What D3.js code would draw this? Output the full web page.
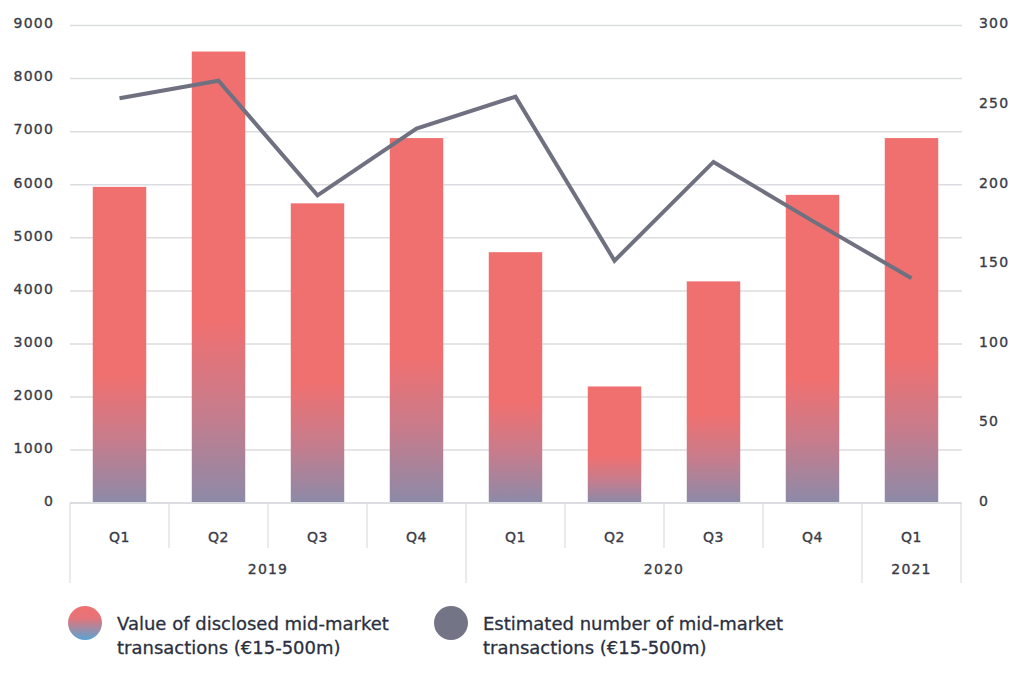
<!DOCTYPE html>
<html><head><meta charset="utf-8">
<script src="https://cdn.jsdelivr.net/npm/d3@7"></script>
<style>
body{margin:0;background:#fff;}
text{font-family:"DejaVu Sans",sans-serif;}
</style></head>
<body><svg id="c" width="1024" height="674"></svg>
<script>
const quarters = ["Q1","Q2","Q3","Q4","Q1","Q2","Q3","Q4","Q1"];
const years = [{label:"2019", from:0, to:3},{label:"2020", from:4, to:7},{label:"2021", from:8, to:8}];
const values = [5950, 8500, 5640, 6870, 4720, 2190, 4170, 5800, 6870];
const counts = [254, 265, 193, 235, 255, 152, 214, 177, 141];
const leftTicks = [0,1000,2000,3000,4000,5000,6000,7000,8000,9000];
const rightTicks = [0,50,100,150,200,250,300];
const legendLabels = [["Value of disclosed mid-market","transactions (€15-500m)"],["Estimated number of mid-market","transactions (€15-500m)"]];

const svg = d3.select("#c");
const L = 70, R = 961, T = 25, B = 502.7;
const idx = quarters.map((d,i)=>i);
const x = d3.scaleBand().domain(idx).range([L,R]).paddingInner(0.46).paddingOuter(0.23);
const yL = d3.scaleLinear().domain([0,9000]).range([B,T]);
const yR = d3.scaleLinear().domain([0,300]).range([B,T]);
const txt = "#3a3b47";

const defs = svg.append("defs");
const g = defs.append("linearGradient").attr("id","barg").attr("x1",0).attr("y1",0).attr("x2",0).attr("y2",1);
g.append("stop").attr("offset","0%").attr("stop-color","#f07070");
g.append("stop").attr("offset","60%").attr("stop-color","#f07070");
g.append("stop").attr("offset","80%").attr("stop-color","#c77c8c");
g.append("stop").attr("offset","100%").attr("stop-color","#8c8aa8");
const lg = defs.append("linearGradient").attr("id","legg").attr("x1",0).attr("y1",0).attr("x2",0).attr("y2",1);
lg.append("stop").attr("offset","0%").attr("stop-color","#f07070");
lg.append("stop").attr("offset","35%").attr("stop-color","#e57478");
lg.append("stop").attr("offset","100%").attr("stop-color","#5aa3d4");

function styleText(sel, size, ls){
  sel.attr("fill",txt).attr("stroke",txt).attr("stroke-width",0.35)
    .style("font-size",size+"px").style("letter-spacing",ls+"px");
}

// gridlines + left labels
const ga = svg.append("g").attr("transform",`translate(${L},0)`)
  .call(d3.axisLeft(yL).tickValues(leftTicks).tickSize(-(R-L+1)).tickPadding(16).tickFormat(d3.format("d")));
ga.select(".domain").remove();
ga.selectAll(".tick line").attr("stroke","#dcdde0").attr("stroke-width",1.5);
styleText(ga.selectAll(".tick text").attr("dy","0.2em"), 14, 1.2);

// right labels
const gr = svg.append("g").attr("transform",`translate(${R},0)`)
  .call(d3.axisRight(yR).tickValues(rightTicks).tickSize(0).tickPadding(18));
gr.select(".domain").remove();
styleText(gr.selectAll(".tick text").attr("dy","0.2em"), 14, 1.2);

// bars
svg.append("g").selectAll("rect").data(values).join("rect")
  .attr("x",(d,i)=>x(i)).attr("width",x.bandwidth())
  .attr("y",d=>yL(d)).attr("height",d=>yL(0)-yL(d))
  .attr("fill","url(#barg)");

// line
svg.append("path").datum(counts)
  .attr("d",d3.line().x((d,i)=>x(i)+x.bandwidth()/2).y(d=>yR(d)))
  .attr("fill","none").attr("stroke","#6f7181").attr("stroke-width",4).attr("stroke-linejoin","miter");

// category axis
const ca = svg.append("g");
ca.append("line").attr("x1",L).attr("x2",R).attr("y1",B).attr("y2",B).attr("stroke","#dcdde0").attr("stroke-width",1.5);
const step = x.step();
const edge = i => L + i*step;
const yearEdges = new Set([0,4,8,9]);
for(let i=0;i<=quarters.length;i++){
  ca.append("line").attr("x1",edge(i)).attr("x2",edge(i)).attr("y1",B).attr("y2",yearEdges.has(i)?583:548)
    .attr("stroke","#dcdde0").attr("stroke-width",1.2);
}
styleText(ca.selectAll("text.q").data(quarters).join("text").attr("class","q")
  .attr("x",(d,i)=>edge(i)+step/2).attr("y",542).attr("text-anchor","middle").text(d=>d), 14, 0.6);
styleText(ca.selectAll("text.y").data(years).join("text").attr("class","y")
  .attr("x",d=>(edge(d.from)+edge(d.to+1))/2).attr("y",574).attr("text-anchor","middle").text(d=>d.label), 14, 1.2);

// legend
const leg = svg.append("g");
const lx = [85, 451];
leg.selectAll("circle").data(lx).join("circle").attr("cx",d=>d).attr("cy",623).attr("r",17)
  .attr("fill",(d,i)=>i===0?"url(#legg)":"#737485");
legendLabels.forEach((lines,i)=>{
  const t = leg.append("text").attr("x",lx[i]+32).attr("y",630).attr("fill","#2b3040")
    .attr("stroke","#2b3040").attr("stroke-width",0.3).style("font-size","18px");
  lines.forEach((s,j)=>t.append("tspan").attr("x",lx[i]+32).attr("dy",j?24:0).text(s));
});
</script></body></html>
